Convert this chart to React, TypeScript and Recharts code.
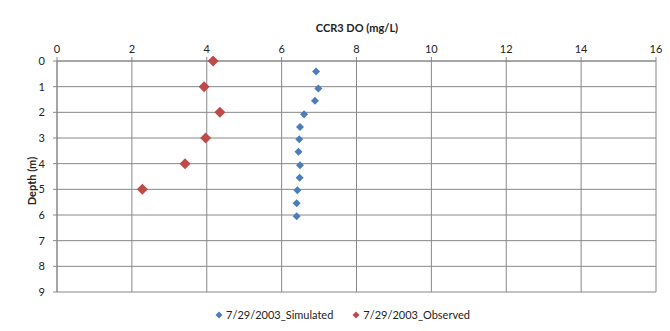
import React from 'react';
import { ScatterChart, Scatter, XAxis, YAxis, CartesianGrid } from 'recharts';

const simulatedDO = [6.92, 6.98, 6.89, 6.6, 6.49, 6.47, 6.45, 6.49, 6.48, 6.42, 6.4, 6.4];
const simulatedDepth = [0.41, 1.07, 1.55, 2.07, 2.57, 3.05, 3.54, 4.06, 4.55, 5.04, 5.54, 6.05];
const observedDO = [4.17, 3.93, 4.35, 3.97, 3.42, 2.28];
const observedDepth = [0, 1, 2, 3, 4, 5];
const xTicks = [0, 2, 4, 6, 8, 10, 12, 14, 16];
const yTicks = [0, 1, 2, 3, 4, 5, 6, 7, 8, 9];
const seriesNames = ['7/29/2003_Simulated', '7/29/2003_Observed'];

const simulated = simulatedDO.map((v, i) => ({ x: v, y: simulatedDepth[i] }));
const observed = observedDO.map((v, i) => ({ x: v, y: observedDepth[i] }));

const BLUE = '#4a7ebb';
const RED = '#be4b48';
const FONT = 'Lato, "Open Sans", sans-serif';

const diamond = (r: number, color: string) => (props: any) => {
  const { cx, cy } = props;
  return (
    <polygon
      points={`${cx},${cy - r} ${cx + r},${cy} ${cx},${cy + r} ${cx - r},${cy}`}
      fill={color}
    />
  );
};

const LegendContent = () => (
  <div style={{ display: 'flex', justifyContent: 'center', fontFamily: FONT, fontSize: 11, color: '#222' }}>
    {[
      { name: seriesNames[0], color: BLUE },
      { name: seriesNames[1], color: RED },
    ].map((it, i) => (
      <div key={it.name} style={{ display: 'flex', alignItems: 'center', marginRight: i === 0 ? 18 : 0 }}>
        <svg width={10} height={10} style={{ marginRight: 2 }}>
          <polygon points="5,1.5 8.5,5 5,8.5 1.5,5" fill={it.color} />
        </svg>
        <span>{it.name}</span>
      </div>
    ))}
  </div>
);

export default function App() {
  return (
    <div style={{ position: 'relative', width: 670, height: 331, margin: -8, overflow: 'hidden', background: '#fff' }}>
      <div
        style={{
          position: 'absolute',
          left: 6,
          top: 5,
          width: 700,
          height: 400,
          border: '1px solid #d9d9d9',
          boxSizing: 'border-box',
        }}
      />
      <ScatterChart width={670} height={331} margin={{ top: 41, right: 14, bottom: 39, left: 17 }}>
        <CartesianGrid stroke="#888" strokeWidth={1} />
        <XAxis
          type="number"
          dataKey="x"
          orientation="top"
          domain={[0, 16]}
          ticks={xTicks}
          interval={0}
          height={20}
          tickSize={4}
          tickMargin={4}
          stroke="#888"
          tick={{ fill: '#222', fontSize: 11, fontFamily: FONT }}
        />
        <YAxis
          type="number"
          dataKey="y"
          reversed
          domain={[0, 9]}
          ticks={yTicks}
          interval={0}
          width={40}
          tickSize={4}
          tickMargin={8}
          stroke="#888"
          tick={{ fill: '#222', fontSize: 11, fontFamily: FONT }}
        />
        <Scatter name={seriesNames[0]} data={simulated} fill={BLUE} shape={diamond(4, BLUE)} isAnimationActive={false} />
        <Scatter name={seriesNames[1]} data={observed} fill={RED} shape={diamond(5.5, RED)} isAnimationActive={false} />
      </ScatterChart>
      <div style={{ position: 'absolute', left: 0, width: 684, top: 308 }}>
        <LegendContent />
      </div>
      <div
        style={{
          position: 'absolute',
          left: 257,
          width: 200,
          top: 21,
          textAlign: 'center',
          fontFamily: FONT,
          fontWeight: 'bold',
          fontSize: 11,
          color: '#222',
        }}
      >
        CCR3 DO (mg/L)
      </div>
      <div
        style={{
          position: 'absolute',
          left: 31,
          top: 181,
          transform: 'translate(-50%, -50%) rotate(-90deg)',
          whiteSpace: 'nowrap',
          fontFamily: FONT,
          fontWeight: 'bold',
          fontSize: 11,
          color: '#222',
        }}
      >
        Depth (m)
      </div>
    </div>
  );
}
